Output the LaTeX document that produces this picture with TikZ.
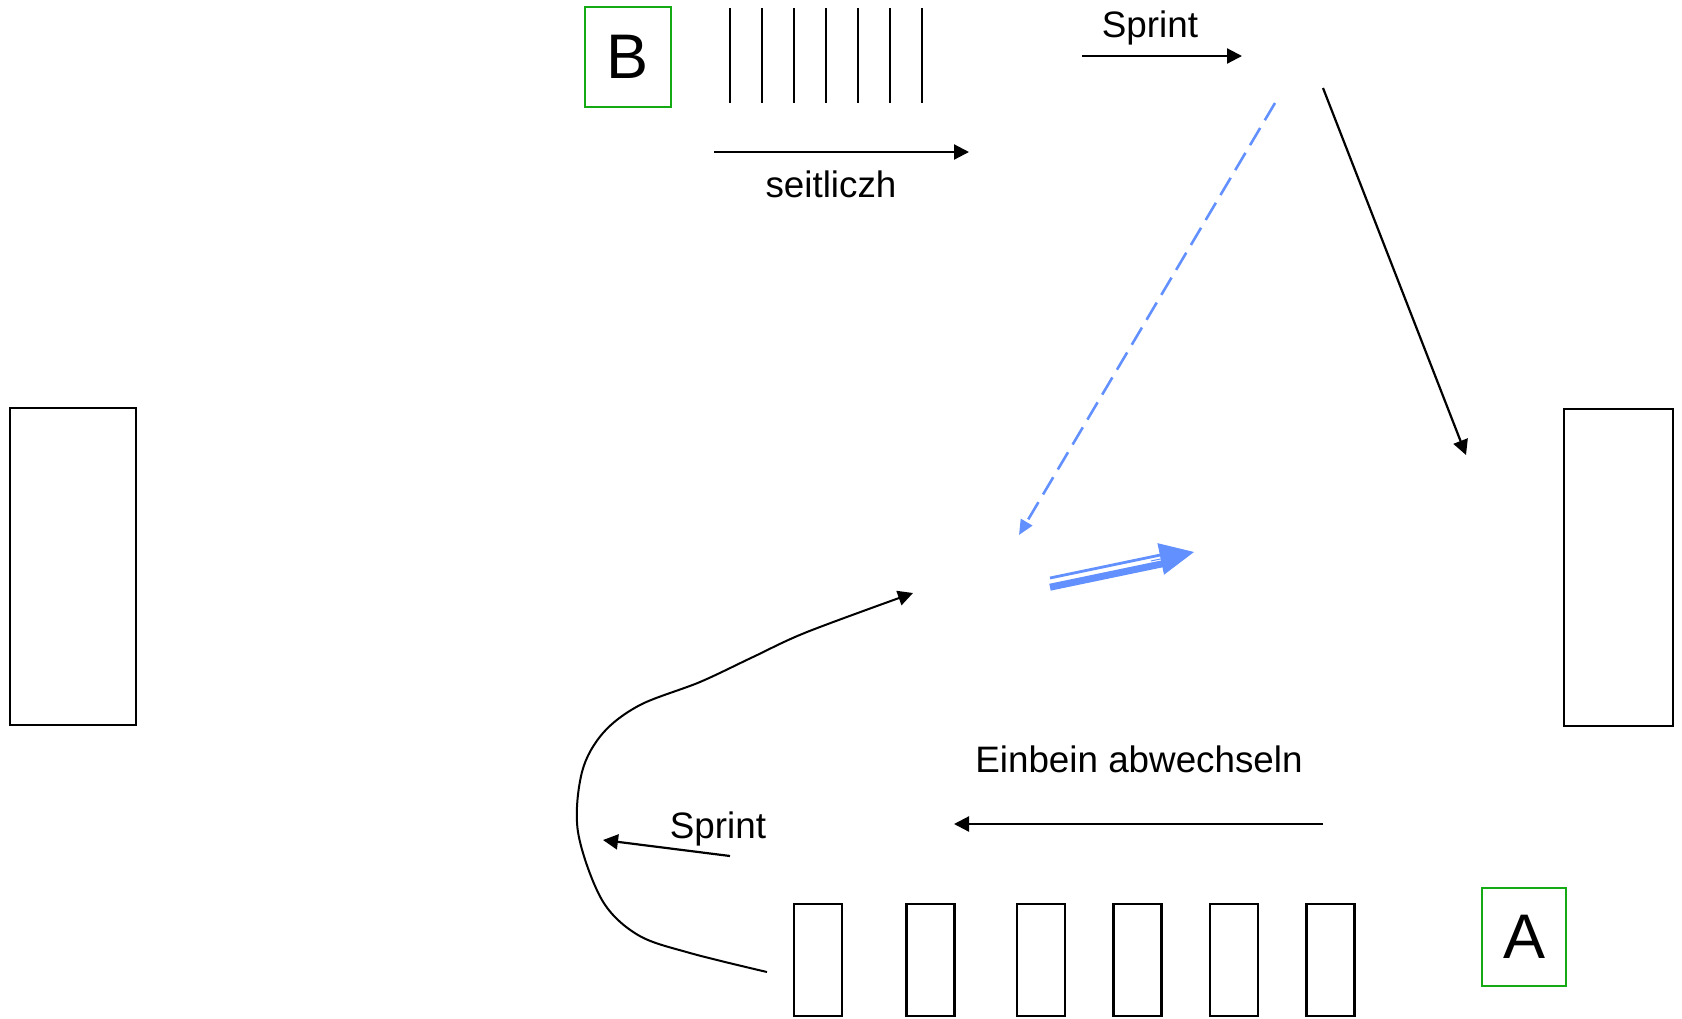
\documentclass[tikz,border=0pt]{standalone}
\usepackage{fontspec}
\setmainfont{Liberation Sans}
\usepackage{tikz}
\usetikzlibrary{positioning, arrows.meta, calc}

\definecolor{drillblue}{RGB}{98,145,255}
\definecolor{markgreen}{RGB}{20,170,20}

\begin{document}
\begin{tikzpicture}[
    x=0.5pt, y=-0.5pt,
    every node/.style={font=\fontsize{18.4}{22}\selectfont, inner sep=0pt},
    % big goals at both ends of the field
    goal/.style={draw, line width=1.3pt, minimum width=#1, minimum height=158.5pt},
    % small boxes in the bottom row
    hurdle/.style={draw, line width=1.3pt, minimum width=24pt, minimum height=56pt},
    % green start markers
    startbox/.style={draw=markgreen, line width=1.1pt, font=\fontsize{31.5}{36}\selectfont},
    txt/.style={anchor=base},
    arrow/.style={-{Triangle[length=7.5pt, width=7.5pt]}, line width=1.1pt},
    % passing lines in blue
    pass/.style={drillblue, dash pattern=on 10pt off 4.5pt, line width=1.3pt,
                 -{Triangle[length=7.5pt, width=6.5pt]}},
    blueline/.style={drillblue}
]
\useasboundingbox (0,0) rectangle (1682,1018);

% goals
\node[goal=63pt]   (goalL) at (73,566.5) {};
\node[goal=54.5pt] (goalR) at (1618.5,567.5) {};

% station B
\node[startbox, minimum width=43pt, minimum height=50pt] (B) at (628,57) {B};
\foreach \x in {730,762,...,922}
    \draw[line width=1.3pt] (\x,8) -- (\x,103);

% station A
\node[startbox, minimum width=42pt, minimum height=49pt] (A) at (1524,937) {A};
\foreach \x [count=\i] in {818,930.5,1041,1137.5,1234,1330.5}
    \node[hurdle] (h\i) at (\x,960) {};

% labels
\node[txt] (sideT) at (831,197) {seitliczh};
\node[txt] (sprT)  at (1150,37) {Sprint};
\node[txt] (oneT)  at (1139,772) {Einbein abwechseln};
\node[txt] (spr2T) at (718,838) {Sprint};

% arrow ends
\coordinate (sideS) at (714,152);  \coordinate (sideE) at (969,152);
\coordinate (sprS)  at (1082,56);  \coordinate (sprE)  at (1242,56);
\coordinate (runS)  at (1323,88);  \coordinate (runE)  at (1466,455);
\coordinate (passS) at (1275,103); \coordinate (passE) at (1019,535);
\coordinate (oneS)  at (1323,824); \coordinate (oneE)  at (954,824);
\coordinate (spr2S) at (730,856);  \coordinate (spr2E) at (603,840);
\coordinate (dblS)  at (1050,582); \coordinate (dblT)  at (1194,552);
\coordinate (crvS)  at (767,972);  \coordinate (crvE)  at (913,593);

\draw[arrow] (sideS) -- (sideE);
\draw[arrow] (sprS) -- (sprE);
\draw[arrow] (runS) -- (runE);
\draw[arrow] (oneS) -- (oneE);
\draw[arrow] (spr2S) -- (spr2E);
\draw[pass] (passS) -- (passE);

% double blue arrow
\draw[blueline, line width=3.5pt] ([yshift=-2.6pt]dblS) -- ([yshift=-2.6pt]$(dblS)!0.78!(dblT)$);
\draw[blueline, line width=1.4pt] ([yshift=2pt]dblS) -- ([yshift=2pt]$(dblS)!0.78!(dblT)$);
\draw[blueline, line width=0.5pt, -{Triangle[length=17pt, width=16pt]}] ($(dblS)!0.7!(dblT)$) -- (dblT);

% dribbling run
\draw[arrow, line width=1pt] plot[smooth, tension=0.55] coordinates {
    (crvS) (690,953) (638,935) (602,900) (578,832) (582,772)
    (603,733) (640,705) (700,682) (753,657) (807,632) (crvE)};

\end{tikzpicture}
\end{document}
